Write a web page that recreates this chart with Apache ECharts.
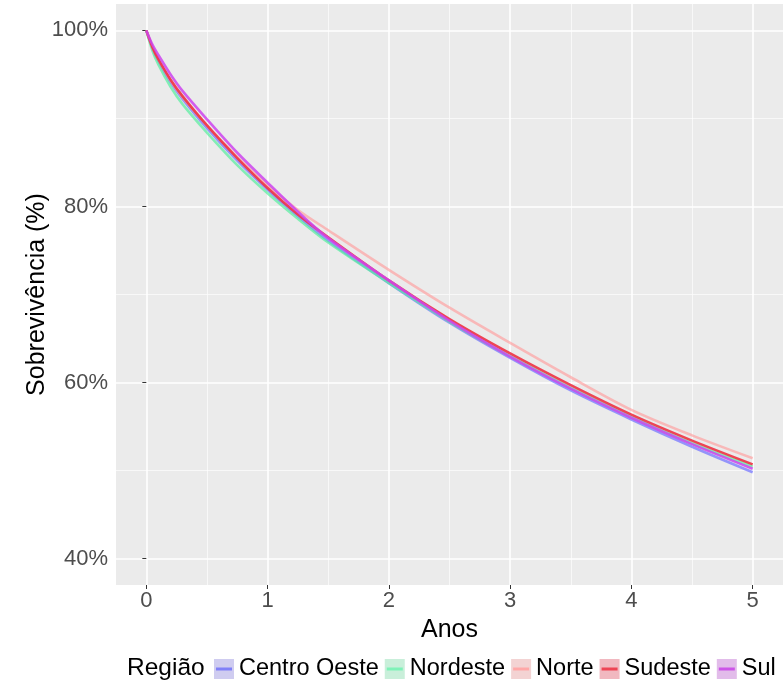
<!DOCTYPE html>
<html><head><meta charset="utf-8">
<script src="https://cdn.jsdelivr.net/npm/echarts@6/dist/echarts.min.js"></script>
<style>html,body{margin:0;padding:0;background:#fff}#c{width:783px;height:684px}</style>
</head><body><div id="c"></div>
<script>
const regions = ['Centro Oeste', 'Nordeste', 'Norte', 'Sudeste', 'Sul'];
const years = [0, 0.05, 0.1, 0.2, 0.3, 0.5, 0.75, 1, 1.25, 1.5, 2, 2.5, 3, 3.5, 4, 4.5, 5];
const centroOeste = [100, 98.0, 96.5, 94.1, 92.2, 88.9, 85.2, 81.9, 78.9, 76.1, 71.3, 66.8, 62.8, 59.1, 55.8, 52.7, 49.8];
const nordeste    = [100, 97.7, 96.1, 93.6, 91.6, 88.4, 84.7, 81.5, 78.6, 75.9, 71.3, 66.9, 63.0, 59.4, 56.1, 53.1, 50.45];
const norte       = [100, 98.1, 96.7, 94.3, 92.4, 89.2, 85.6, 82.4, 79.6, 77.3, 72.8, 68.5, 64.5, 60.6, 56.9, 54.0, 51.4];
const sudeste     = [100, 98.1, 96.7, 94.4, 92.5, 89.2, 85.5, 82.1, 79.1, 76.5, 71.6, 67.2, 63.3, 59.7, 56.35, 53.4, 50.7];
const sul         = [100, 98.4, 97.2, 95.0, 93.1, 89.9, 86.1, 82.7, 79.4, 76.4, 71.6, 67.0, 62.95, 59.3, 56.0, 53.0, 50.2];
const seriesValues = [centroOeste, nordeste, norte, sudeste, sul];
const xTicks = [0, 1, 2, 3, 4, 5];
const xMinor = [0.5, 1.5, 2.5, 3.5, 4.5];
const yTicks = [40, 60, 80, 100];
const yMinor = [50, 70, 90];

const lineColors = ['#7777FF', '#55EE9E', '#FF9C9C', '#EE3344', '#CC44EE'];
const lineOpacity = [0.75, 0.7, 0.65, 0.9, 0.85];
const keyLineColors = ['#8080F8', '#7FF2B8', '#FFA8A8', '#EE4455', '#CC55E8'];
const keyFillColors = ['#CFCCF0', '#C9EFDA', '#F3D3D3', '#F1B8C0', '#E2BCEA'];
const FONT = '"Liberation Sans", Arial, sans-serif';

const chart = echarts.init(document.getElementById('c'), null, {renderer: 'canvas'});
const option = {
  animation: false,
  backgroundColor: '#ffffff',
  title: {
    text: 'Região', left: 127, top: 656, padding: 0,
    textStyle: {fontSize: 24.5, fontWeight: 'normal', color: '#000', fontFamily: FONT}
  },
  grid: {left: 116, right: 0, top: 4, bottom: 99, show: true, backgroundColor: '#EBEBEB', borderWidth: 0, containLabel: false},
  xAxis: [
    {
      type: 'value', min: -0.25, max: 5.25, gridIndex: 0,
      axisLine: {show: false},
      axisTick: {show: true, customValues: xTicks, length: 4, lineStyle: {color: '#333333', width: 1}},
      axisLabel: {customValues: xTicks, margin: 5, fontSize: 22, color: '#4D4D4D', fontFamily: FONT},
      splitLine: {show: true, lineStyle: {color: '#FFFFFF', width: 1.6}},
      name: 'Anos', nameLocation: 'middle', nameGap: 33, nameMoveOverlap: false,
      nameTextStyle: {fontSize: 25, color: '#000', fontFamily: FONT}
    },
    {
      type: 'value', min: -0.25, max: 5.25, gridIndex: 0, position: 'bottom',
      axisLine: {show: false},
      axisTick: {show: false, customValues: xMinor},
      axisLabel: {show: false, customValues: xMinor},
      splitLine: {show: true, lineStyle: {color: '#FFFFFF', width: 0.8, opacity: 0.8}}
    }
  ],
  yAxis: [
    {
      type: 'value', min: 37, max: 103, gridIndex: 0,
      axisLine: {show: false},
      axisTick: {show: true, customValues: yTicks, length: 4, lineStyle: {color: '#333333', width: 1}},
      axisLabel: {customValues: yTicks, margin: 8, fontSize: 22, color: '#4D4D4D', fontFamily: FONT, formatter: '{value}%'},
      splitLine: {show: true, lineStyle: {color: '#FFFFFF', width: 1.6}},
      name: 'Sobrevivência (%)', nameLocation: 'middle', nameGap: 66, nameRotate: 90, nameMoveOverlap: false,
      nameTextStyle: {fontSize: 25, color: '#000', fontFamily: FONT}
    },
    {
      type: 'value', min: 37, max: 103, gridIndex: 0, position: 'left',
      axisLine: {show: false},
      axisTick: {show: false, customValues: yMinor},
      axisLabel: {show: false, customValues: yMinor},
      splitLine: {show: true, lineStyle: {color: '#FFFFFF', width: 0.8, opacity: 0.8}}
    }
  ],
  legend: [
    {
      left: 214, top: 657, width: 620, padding: 0, orient: 'horizontal', itemWidth: 20, itemHeight: 20, itemGap: 6,
      icon: 'rect', selectedMode: false,
      itemStyle: {borderWidth: 0, opacity: 1},
      textStyle: {fontSize: 23.5, color: '#000', fontFamily: FONT},
      data: regions.map((r, i) => ({name: r, itemStyle: {color: keyFillColors[i]}}))
    },
    {
      left: 216, top: 657, width: 620, padding: 0, orient: 'horizontal', itemWidth: 16, itemHeight: 20, itemGap: 10,
      icon: 'path://M0,0h16v3h-16z', selectedMode: false,
      itemStyle: {borderWidth: 0, opacity: 1},
      textStyle: {fontSize: 23.5, color: 'rgba(0,0,0,0)', fontFamily: FONT},
      data: regions.map((r, i) => ({name: r, itemStyle: {color: keyLineColors[i]}}))
    }
  ],
  series: regions.map((r, i) => ({
    name: r, type: 'line', xAxisIndex: 0, yAxisIndex: 0,
    data: years.map((t, j) => [t, seriesValues[i][j]]),
    showSymbol: false, symbol: 'none', smooth: 0.3,
    lineStyle: {color: lineColors[i], width: 2.6, opacity: lineOpacity[i]},
    itemStyle: {color: lineColors[i]},
    emphasis: {disabled: true}
  }))
};
chart.setOption(option);
</script>
</body></html>
